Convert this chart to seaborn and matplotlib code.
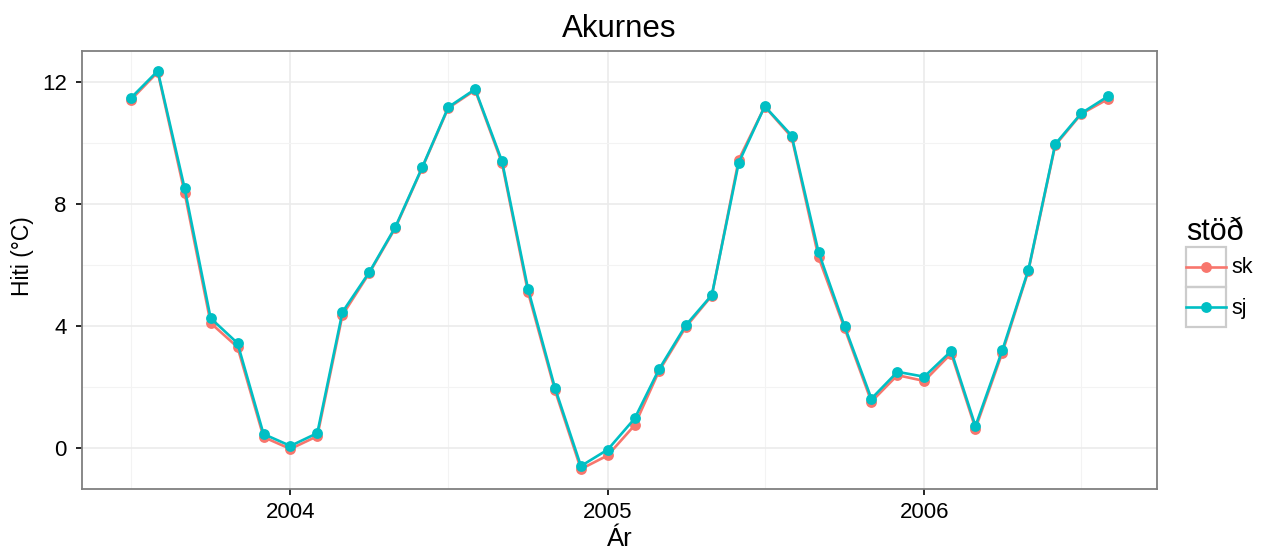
import matplotlib
matplotlib.use("Agg")
import matplotlib.pyplot as plt
import matplotlib.dates as mdates
from matplotlib.ticker import MultipleLocator
from matplotlib.legend_handler import HandlerLine2D
from matplotlib.lines import Line2D
from matplotlib.patches import Rectangle
import pandas as pd
import seaborn as sns

# ---- data ----
months = ["2003-07", "2003-08", "2003-09", "2003-10", "2003-11", "2003-12",
          "2004-01", "2004-02", "2004-03", "2004-04", "2004-05", "2004-06",
          "2004-07", "2004-08", "2004-09", "2004-10", "2004-11", "2004-12",
          "2005-01", "2005-02", "2005-03", "2005-04", "2005-05", "2005-06",
          "2005-07", "2005-08", "2005-09", "2005-10", "2005-11", "2005-12",
          "2006-01", "2006-02", "2006-03", "2006-04", "2006-05", "2006-06",
          "2006-07", "2006-08"]
sk = [11.42, 12.33, 8.37, 4.10, 3.31, 0.36, -0.03, 0.39, 4.36, 5.74, 7.22, 9.19,
      11.15, 11.74, 9.34, 5.11, 1.90, -0.69, -0.24, 0.75, 2.52, 3.97, 5.00, 9.46,
      11.20, 10.20, 6.26, 3.93, 1.52, 2.39, 2.20, 3.10, 0.64, 3.13, 5.81, 9.93,
      10.96, 11.45]
sj = [11.48, 12.37, 8.52, 4.26, 3.44, 0.46, 0.07, 0.49, 4.46, 5.77, 7.25, 9.21,
      11.18, 11.77, 9.41, 5.22, 1.98, -0.59, -0.05, 0.97, 2.58, 4.03, 5.02, 9.36,
      11.21, 10.25, 6.43, 4.00, 1.62, 2.50, 2.34, 3.18, 0.72, 3.21, 5.84, 9.97,
      10.98, 11.54]
stations = ["sk", "sj"]
colors = {"sk": "#F8766D", "sj": "#00BFC4"}
title = "Akurnes"
xlabel = "Ár"
ylabel = "Hiti (°C)"
legend_title = "stöð"

dates = pd.to_datetime([m + "-01" for m in months])
df = pd.concat([
    pd.DataFrame({"dags": dates, "hiti": sk, "stöð": "sk"}),
    pd.DataFrame({"dags": dates, "hiti": sj, "stöð": "sj"}),
], ignore_index=True)

plt.rcParams["font.family"] = ["Liberation Sans", "DejaVu Sans"]

fig = plt.figure(figsize=(12.64, 5.5), dpi=100)
ax = fig.add_axes([82 / 1264, 1 - 489 / 550, (1157 - 82) / 1264, (489 - 51) / 550])

sns.lineplot(data=df, x="dags", y="hiti", hue="stöð", hue_order=stations,
             palette=colors, marker="o", markersize=7.8, markeredgewidth=0,
             linewidth=1.9, ax=ax, legend=False)

ax.margins(x=0.05, y=0.05)

# grid / ticks
ax.xaxis.set_major_locator(mdates.YearLocator())
ax.xaxis.set_major_formatter(mdates.DateFormatter("%Y"))
ax.xaxis.set_minor_locator(mdates.MonthLocator(bymonth=7))
ax.yaxis.set_major_locator(MultipleLocator(4))
ax.yaxis.set_minor_locator(MultipleLocator(2))
ax.set_axisbelow(True)
ax.grid(which="major", color="#ebebeb", linewidth=1.2)
ax.grid(which="minor", color="#f3f3f3", linewidth=0.8)
ax.tick_params(which="major", length=4.5, width=1.2, color="black",
               labelsize=16, labelcolor="black")
ax.tick_params(axis="y", which="major", pad=6.5)
ax.tick_params(axis="x", which="major", pad=5)
ax.tick_params(which="minor", length=0)
for s in ax.spines.values():
    s.set_color("#7f7f7f")
    s.set_linewidth(1.3)

ax.set_xlabel(xlabel, fontsize=18.5)
ax.xaxis.set_label_coords(0.5, -(527 - 489) / 438)
ax.set_ylabel(ylabel, fontsize=16.5)
ax.yaxis.set_label_coords(-(82 - 34) / 1075, (489 - 256) / 438)
ax.set_title(title, fontsize=22.5, pad=10)


class BoxedHandler(HandlerLine2D):
    def create_artists(self, legend, orig_handle, xdescent, ydescent,
                       width, height, fontsize, trans):
        arts = super().create_artists(legend, orig_handle, xdescent, ydescent,
                                      width, height, fontsize, trans)
        x0, y0 = -xdescent, -ydescent
        cy = y0 + height / 2
        for a in arts:
            yd = a.get_ydata()
            a.set_ydata([cy] * len(yd))
        box = Rectangle((x0, y0), width, height, fill=False,
                        edgecolor="#cccccc", linewidth=1.6, transform=trans)
        return [box] + list(arts)


handles = [Line2D([], [], color=colors[s], marker="o", markersize=7.8,
                  markeredgewidth=0, linewidth=1.9) for s in stations]
leg = fig.legend(handles, stations, title=legend_title, loc="center left",
                 bbox_to_anchor=(1186 / 1264, 1 - 272 / 550), frameon=False,
                 fontsize=15.5, title_fontsize=22, handlelength=1.85,
                 handleheight=2.5, labelspacing=0.0, handletextpad=0.25,
                 borderpad=0, borderaxespad=0, alignment="left",
                 handler_map={Line2D: BoxedHandler()})

fig.savefig("out.png", dpi=100)
